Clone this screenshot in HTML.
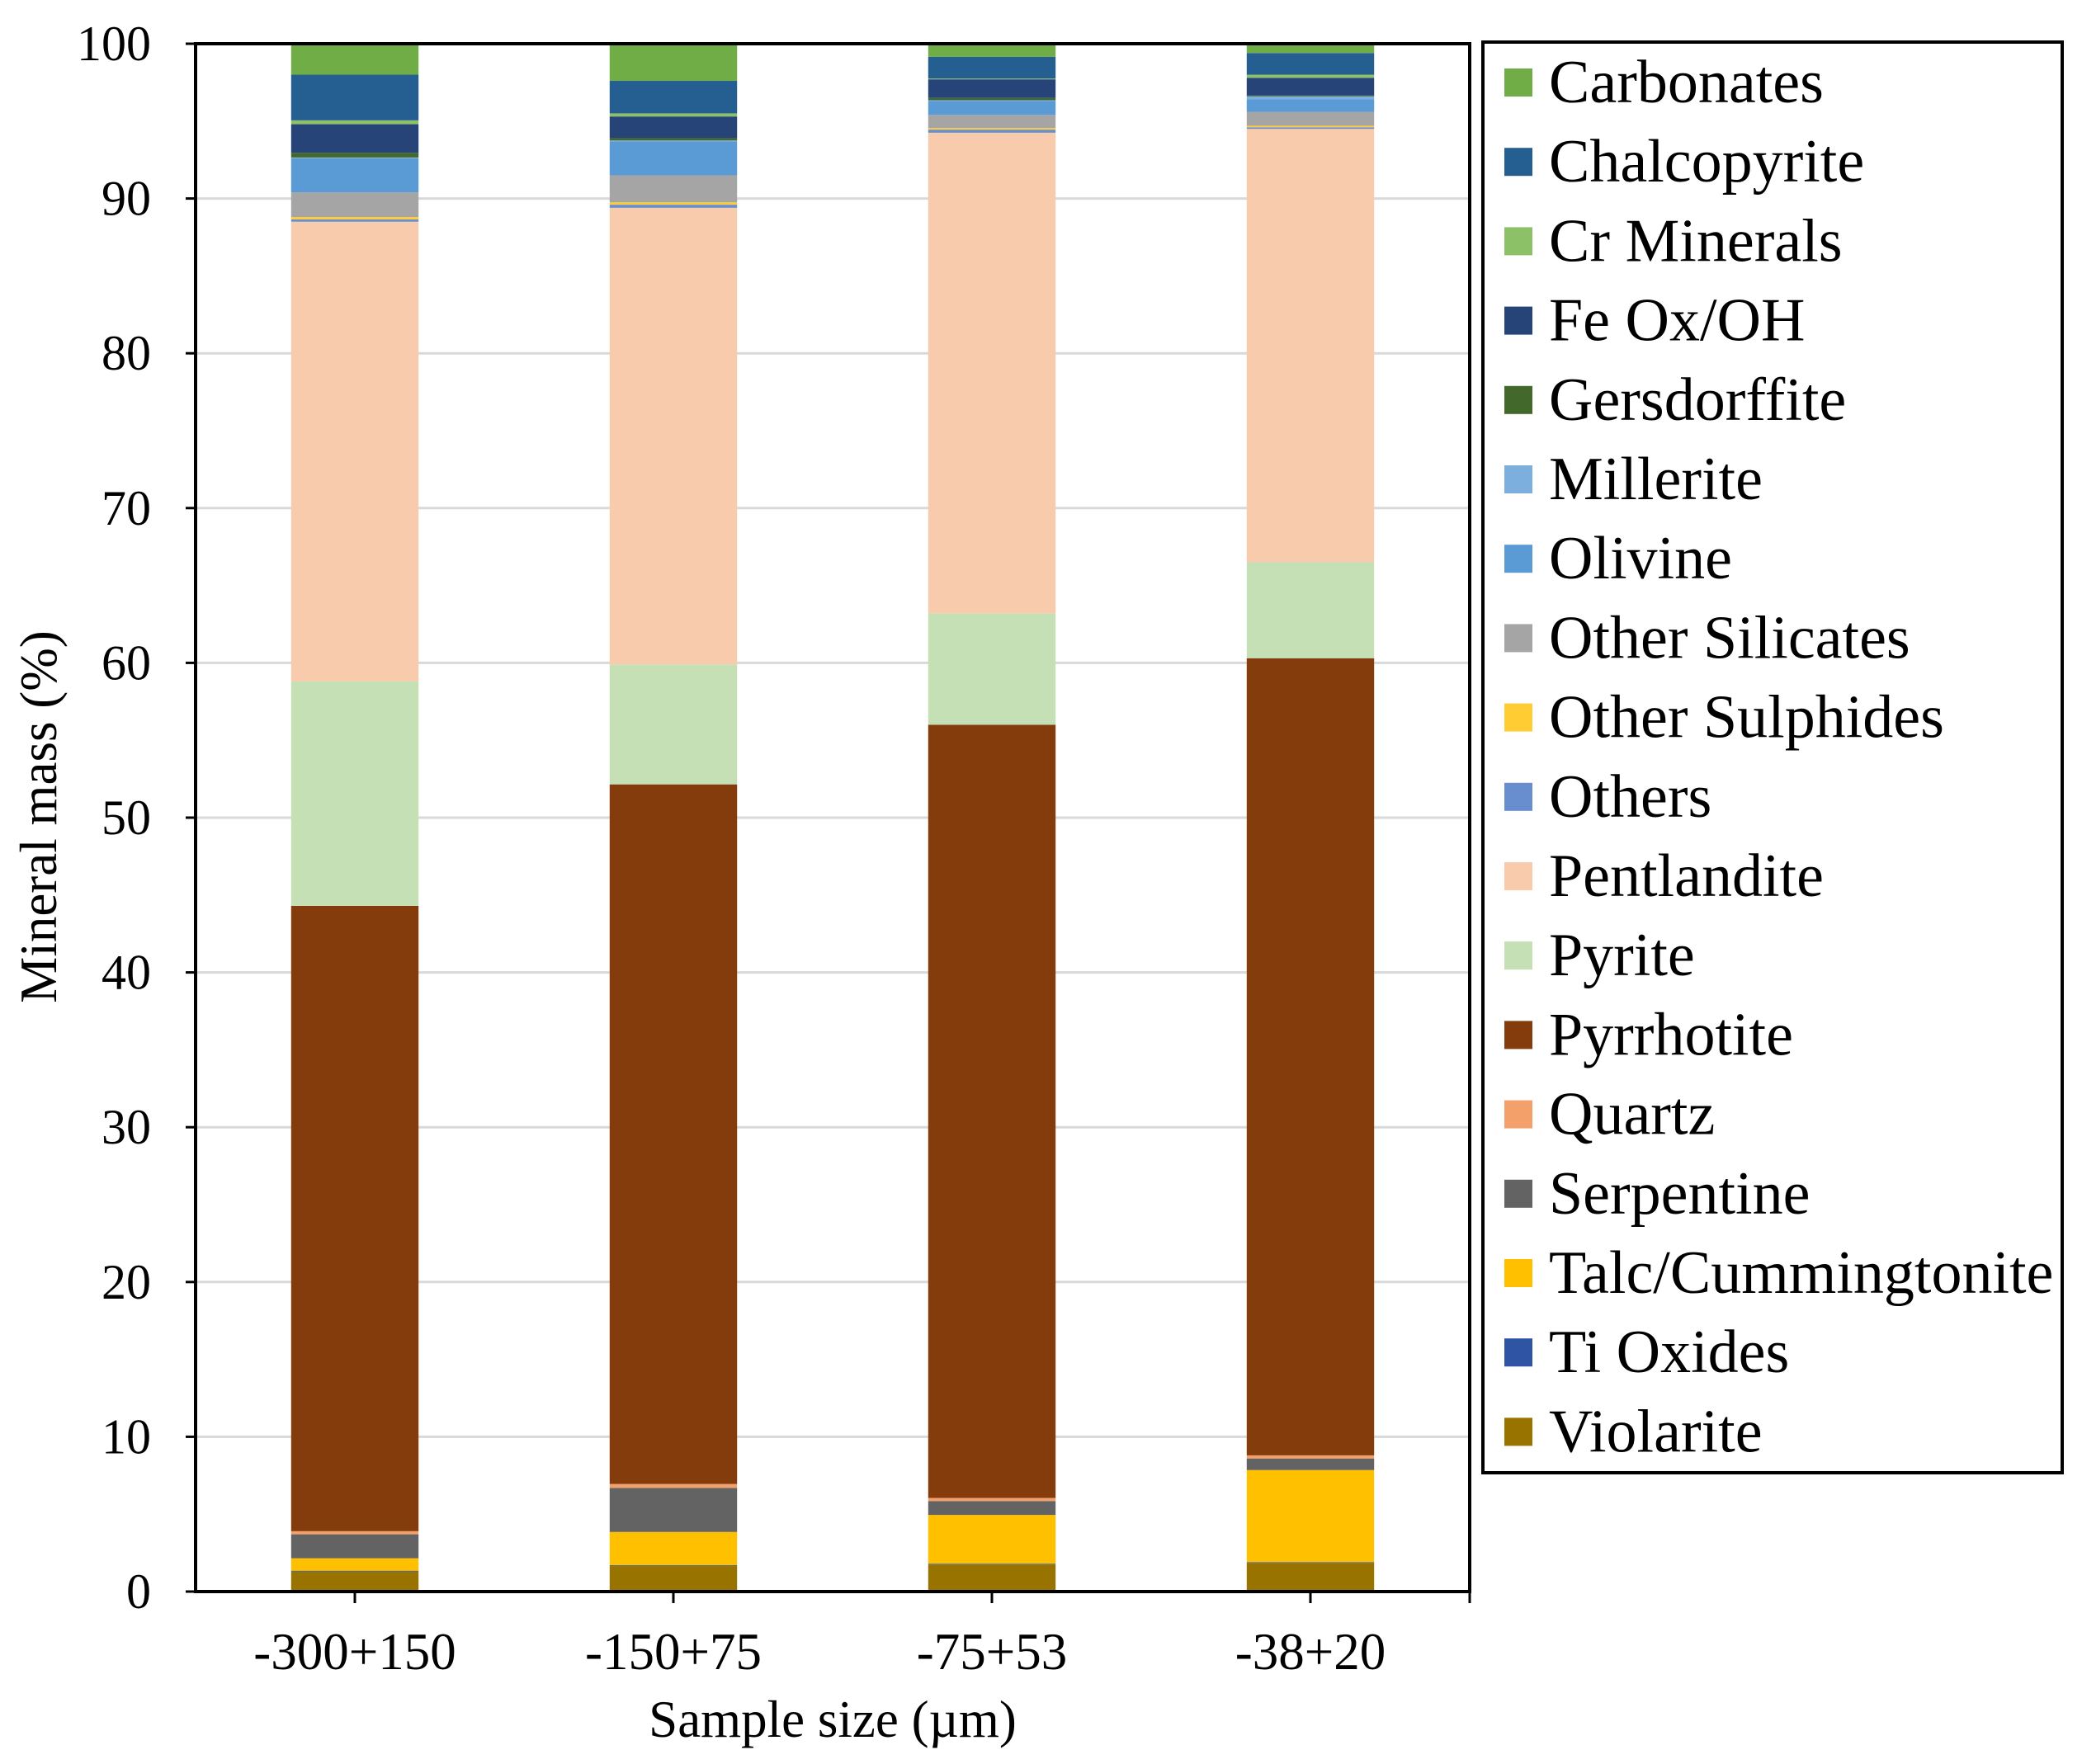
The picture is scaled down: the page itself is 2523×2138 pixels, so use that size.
<!DOCTYPE html>
<html><head><meta charset="utf-8"><style>
html,body{margin:0;padding:0;background:#fff;}
svg{display:block;font-family:"Liberation Serif",serif;}
</style></head><body>
<svg id="chart" width="2523" height="2138" viewBox="0 0 2523 2138" xmlns="http://www.w3.org/2000/svg">
<g id="grid"></g>
<g id="bars"></g>
<g id="axes"></g>
<g id="legend"></g>
<text x="0" y="0" transform="translate(68,990) rotate(-90)" text-anchor="middle" font-size="63" fill="#000">Mineral mass (%)</text>
<text x="1009" y="2105" text-anchor="middle" font-size="63" fill="#000">Sample size (µm)</text>
</svg>
<script>
const categories = ["-300+150","-150+75","-75+53","-38+20"];
const seriesNames = ["Violarite","Ti Oxides","Talc/Cummingtonite","Serpentine","Quartz","Pyrrhotite","Pyrite","Pentlandite","Others","Other Sulphides","Other Silicates","Olivine","Millerite","Gersdorffite","Fe Ox/OH","Cr Minerals","Chalcopyrite","Carbonates"];
const seriesColors = ["#997300","#2e54a3","#ffc000","#636363","#f4a06a","#843c0c","#c5e0b4","#f8cbad","#698ed0","#ffcd33","#a5a5a5","#5b9bd5","#7cafdd","#43682b","#264478","#8cc168","#255e91","#70ad47"];
const violarite = [1.3,1.65,1.75,1.85];
const tiOxides = [0.05,0.05,0.05,0.05];
const talc = [0.8,2.15,3.15,5.95];
const serpentine = [1.55,2.85,0.9,0.75];
const quartz = [0.2,0.25,0.2,0.2];
const pyrrhotite = [40.4,45.2,49.95,51.5];
const pyrite = [14.5,7.75,7.2,6.2];
const pentlandite = [29.7,29.5,31.05,28.0];
const others = [0.15,0.2,0.2,0.1];
const otherSulphides = [0.15,0.15,0.1,0.1];
const otherSilicates = [1.6,1.75,0.85,0.9];
const olivine = [2.2,2.2,0.9,0.8];
const millerite = [0.05,0.05,0.05,0.2];
const gersdorffite = [0.3,0.15,0.15,0.05];
const feOx = [1.85,1.4,1.2,1.15];
const crMinerals = [0.25,0.2,0.05,0.2];
const chalcopyrite = [2.95,2.1,1.4,1.4];
const carbonates = [2.0,2.4,0.85,0.6];
const yTicks = [0,10,20,30,40,50,60,70,80,90,100];

const series = [violarite,tiOxides,talc,serpentine,quartz,pyrrhotite,pyrite,pentlandite,others,otherSulphides,otherSilicates,olivine,millerite,gersdorffite,feOx,crMinerals,chalcopyrite,carbonates];
const NS="http://www.w3.org/2000/svg";
const L=237,R=1781,T=53,B=1929;
const yMax=100;
const band=(R-L)/categories.length;
const y=v=>B-(v/yMax)*(B-T);
const xc=i=>L+band*(i+0.5);
const barW=band*0.4;
function mk(tag,attrs,parent){const e=document.createElementNS(NS,tag);for(const k in attrs)e.setAttribute(k,attrs[k]);parent.appendChild(e);return e;}
const grid=document.getElementById('grid'),bars=document.getElementById('bars'),axes=document.getElementById('axes'),legend=document.getElementById('legend');
yTicks.forEach(t=>{
  const g=mk('line',{x1:L,x2:R,y1:y(t),y2:y(t),stroke:'#d9d9d9','stroke-width':3},grid);
  
  
  const tk=mk('line',{x1:L-12,x2:L,y1:y(t),y2:y(t),stroke:'#000','stroke-width':3},axes);
  
  
  const lb=mk('text',{x:183,y:y(t)+20,'text-anchor':'end','font-size':60,fill:'#000'},axes);
  lb.textContent=t;
  
  
});
categories.forEach((c,i)=>{
  let acc=0;
  series.forEach((s,k)=>{
    const v=s[i];
    const r=mk('rect',{x:xc(i)-barW/2,y:y(acc+v),width:barW,height:Math.max(0,y(acc)-y(acc+v)),fill:seriesColors[k]},bars);
    
    
    acc+=v;
  });
  const tk=mk('line',{x1:xc(i),x2:xc(i),y1:B,y2:B+14,stroke:'#000','stroke-width':3},axes);
  
  
  const lb=mk('text',{x:xc(i),y:2023,'text-anchor':'middle','font-size':63,fill:'#000'},axes);
  lb.textContent=c;
  
  
});
const rt=mk('line',{x1:R,x2:R,y1:B,y2:B+14,stroke:'#000','stroke-width':3},axes);


const fr=mk('rect',{x:L,y:T,width:R-L,height:B-T,fill:'none',stroke:'#000','stroke-width':4},axes);


const lbx=mk('rect',{x:1797,y:51,width:702,height:1734,fill:'#fff',stroke:'#000','stroke-width':4},legend);


const legendOrder=seriesNames.map((n,k)=>k).reverse();
legendOrder.forEach((k,j)=>{
  const cy=100+96.2*j;
  const sq=mk('rect',{x:1823,y:cy-17,width:34,height:34,fill:seriesColors[k]},legend);
  
  
  const t=mk('text',{x:1877,y:cy+24,'font-size':74,fill:'#000'},legend);
  t.textContent=seriesNames[k];
  
  
});
</script>
</body></html>
